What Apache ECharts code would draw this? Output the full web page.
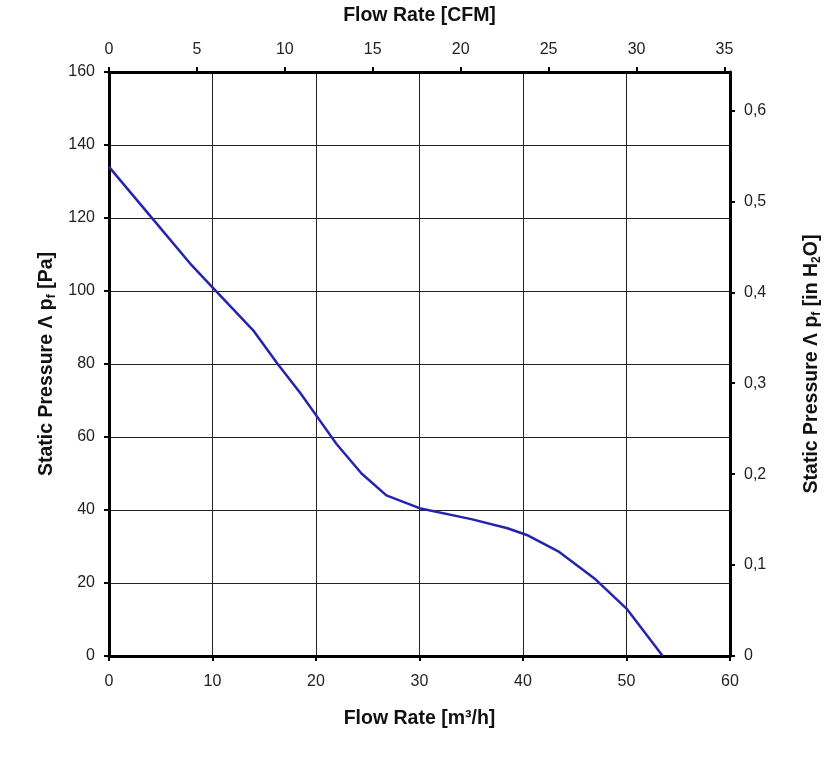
<!DOCTYPE html>
<html>
<head>
<meta charset="utf-8">
<script src="https://cdn.jsdelivr.net/npm/echarts@6/dist/echarts.min.js"></script>
<style>
  html, body { margin: 0; padding: 0; background: #fff; }
  #chart { width: 838px; height: 769px; }
</style>
</head>
<body>
<div id="chart"></div>
<script>
// Data
const flowM3h =   [0,   4,     8,   10,  14,  16.3, 18.5, 20,  22,  24.4, 26.8, 30,   35,   38.5, 40.5, 43.5, 47,  50,  53.5];
const pressurePa = [134, 120.5, 107, 101, 89,  80,   72,   66,  58,  50,   44,   40.5, 37.5, 35,   33,   28.5, 21,  13,  0];

// Tick labels
const topTickValues = [0, 5, 10, 15, 20, 25, 30, 35];              // CFM
const rightTickValues = [0, 0.1, 0.2, 0.3, 0.4, 0.5, 0.6];         // in H2O

const bottomTicks = { min: 0, max: 60, interval: 10 };
const leftTicks = { min: 0, max: 160, interval: 20 };
const M3H_PER_CFM = 1.699011;
const PA_PER_INH2O = 249.0889;

const FONT = '"Liberation Sans", Arial, sans-serif';
const labelStyle = { fontFamily: FONT, fontSize: 16, color: '#222' };
const nameStyle = {
  fontFamily: FONT, fontSize: 19.5, fontWeight: 'bold', color: '#111',
  rich: {
    s: { fontFamily: FONT, fontSize: 12, fontWeight: 'bold', color: '#111', padding: [10, 0, 0, 0] }
  }
};
const axisLine = { show: true, onZero: false, lineStyle: { color: '#000', width: 3 } };
const tick = { show: true, inside: false, length: 5, lineStyle: { color: '#000', width: 2 } };
const grid = { show: true, lineStyle: { color: '#222', width: 1 } };

const chart = echarts.init(document.getElementById('chart'), null, { renderer: 'canvas' });
chart.setOption({
  animation: false,
  backgroundColor: '#fff',
  grid: { left: 109, right: 108, top: 72, bottom: 113, containLabel: false, outerBoundsMode: 'none' },
  xAxis: [
    {
      type: 'value', position: 'bottom', ...bottomTicks,
      name: 'Flow Rate [m³/h]', nameLocation: 'middle', nameGap: 53, nameTextStyle: nameStyle,
      axisLine, axisTick: tick, splitLine: grid,
      axisLabel: { ...labelStyle, margin: 18 }
    },
    {
      type: 'value', position: 'top', min: 0, max: 60 / M3H_PER_CFM,
      name: 'Flow Rate [CFM]', nameLocation: 'middle', nameGap: 46, nameTextStyle: nameStyle,
      axisLine, axisTick: { ...tick, customValues: topTickValues }, splitLine: { show: false },
      axisLabel: { ...labelStyle, margin: 14, customValues: topTickValues }
    }
  ],
  yAxis: [
    {
      type: 'value', position: 'left', ...leftTicks,
      name: 'Static Pressure Λ p{s|f} [Pa]', nameLocation: 'middle', nameRotate: 90, nameGap: 49,
      nameTextStyle: nameStyle,
      axisLine, axisTick: tick, splitLine: grid,
      axisLabel: { ...labelStyle, margin: 14 }
    },
    {
      type: 'value', position: 'right', min: 0, max: 160 / PA_PER_INH2O,
      name: 'Static Pressure Λ p{s|f} [in H{s|2}O]', nameLocation: 'middle', nameRotate: 90, nameGap: 71,
      nameTextStyle: nameStyle,
      axisLine, axisTick: { ...tick, customValues: rightTickValues }, splitLine: { show: false },
      axisLabel: {
        ...labelStyle, margin: 14, customValues: rightTickValues,
        formatter: v => (Math.abs(v) < 1e-9 ? '0' : v.toFixed(1).replace('.', ','))
      }
    }
  ],
  series: [
    {
      type: 'line', xAxisIndex: 0, yAxisIndex: 0,
      data: flowM3h.map((x, i) => [x, pressurePa[i]]),
      showSymbol: false, smooth: false,
      lineStyle: { color: '#2424b0', width: 2.5 }
    }
  ]
});
</script>
</body>
</html>
